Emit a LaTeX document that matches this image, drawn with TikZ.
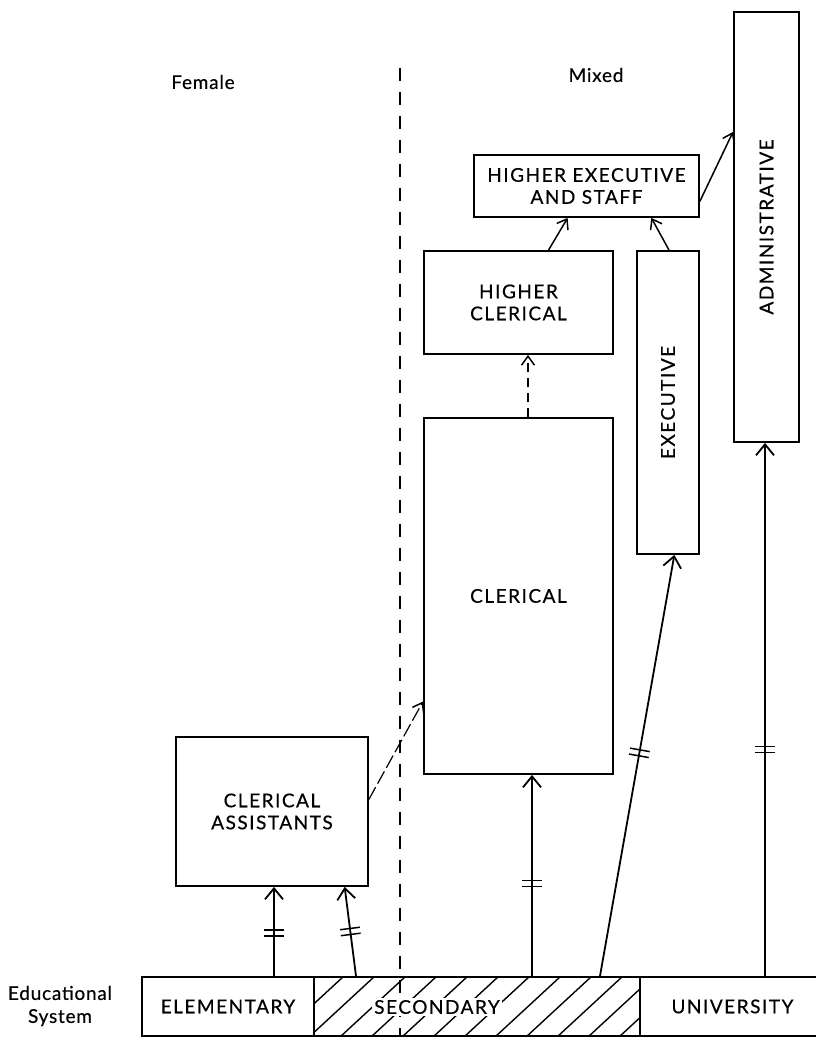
\documentclass[tikz,border=0pt]{standalone}
\usepackage{fontspec}
\setmainfont{Lato}[LetterSpace=4, FakeBold=0.4]
\newfontfamily\capsf{Lato}[LetterSpace=8, FakeBold=0.5]
\usetikzlibrary{arrows.meta,decorations.markings,calc}
\begin{document}
\begin{tikzpicture}[x=1pt,y=-1pt,
  box/.style={draw, line width=1.9pt, inner sep=0pt, anchor=north west, align=center,
    font=\capsf\fontsize{19}{22}\selectfont},
  lab/.style={font=\fontsize{19}{23}\selectfont, align=center},
  arr/.style={line width=1.8pt, -{Straight Barb[length=11pt,width=18pt,line width=1.8pt]}},
  arrs/.style={line width=1.5pt, -{Straight Barb[length=9pt,width=13pt,line width=1.5pt]}},
  dbars/.style={postaction={decorate,decoration={markings,
    mark=at position #1 with {\draw[line width=1.5pt,-] (-3,-10)--(-3,10) (3,-10)--(3,10);}}}},
  divider/.style={line width=1.6pt, dash pattern=on 13pt off 11pt},
  hatch/.style={line width=1.4pt}
]
\useasboundingbox (0,0) rectangle (815,1037);

% labels
\node[lab] (fem) at (203,82) {Female};
\node[lab] (mix) at (596,75) {Mixed};
\node[lab] (edu) at (60,1006) {Educational\\System};

% boxes
\node[box, minimum width=225pt, minimum height=62pt] (hes) at (473,154) {HIGHER EXECUTIVE\\AND STAFF};
\node[box, minimum width=65pt, minimum height=430pt] (adm) at (733,11) {\rotatebox{90}{ADMINISTRATIVE}};
\node[box, minimum width=189pt, minimum height=103pt] (hc) at (423,250) {HIGHER\\CLERICAL};
\node[box, minimum width=62pt, minimum height=303pt] (ex) at (636,250) {\rotatebox{90}{EXECUTIVE}};
\node[box, minimum width=189pt, minimum height=356pt] (cl) at (423,417) {CLERICAL};
\node[box, minimum width=192pt, minimum height=149pt] (ca) at (175,736) {CLERICAL\\ASSISTANTS};

% educational system bar
\node[box, minimum width=172pt, minimum height=59pt] (el) at (141,976) {ELEMENTARY};
\node[box, minimum width=326pt, minimum height=59pt] (se) at (313,976) {};
\node[box, minimum width=185pt, minimum height=59pt] (un) at (639,976) {UNIVERSITY};
\begin{scope}
  \clip (se.south west) rectangle (se.north east);
  \foreach \k in {0,...,12} {
    \draw[hatch] (247+\k*31,1037) -- ++(66,-61);
  }
\end{scope}

% divider
\coordinate (dtop) at (400,68);
\coordinate (dbot) at (400,1037);
\draw[divider] (dtop) -- (dbot);

\node[box, draw=none, fill=white, inner sep=2pt, anchor=center] (sel) at (437,1007) {SECONDARY};

% sources on the bar
\coordinate (s1) at (274,976);
\coordinate (s2) at (356,976);
\coordinate (s3) at (532,976);
\coordinate (s4) at (600,976);
\coordinate (s5) at (765,976);

\draw[arr, dbars=0.48] (s1) -- (s1 |- ca.south);
\draw[arr, dbars=0.5] (s2) -- ($(ca.south west)!0.875!(ca.south east)$);
\draw[arr, line width=1.3pt, dbars=0.46] (s3) -- (s3 |- cl.south);
\draw[arr, dbars=0.53] (s4) -- ($(ex.south west)!0.6!(ex.south east)$);
\draw[arr, dbars=0.425] (s5) -- (s5 |- adm.south);

% upward links
\draw[arrs, line width=1.2pt, dash pattern=on 14pt off 4pt]
  ($(ca.north east)!0.42!(ca.south east)$) -- ($(cl.north west)!0.795!(cl.south west)$);
\draw[arrs, line width=1.2pt, dash pattern=on 9pt off 6pt]
  ($(cl.north west)!0.55!(cl.north east)$) -- ($(hc.south west)!0.55!(hc.south east)$);
\draw[arrs] ($(hc.north west)!0.658!(hc.north east)$) -- ($(hes.south west)!0.417!(hes.south east)$);
\draw[arrs] ($(ex.north west)!0.516!(ex.north east)$) -- ($(hes.south west)!0.786!(hes.south east)$);
\draw[arrs] ($(hes.north east)!0.74!(hes.south east)$) -- ($(adm.north west)!0.28!(adm.south west)$);
\end{tikzpicture}
\end{document}
